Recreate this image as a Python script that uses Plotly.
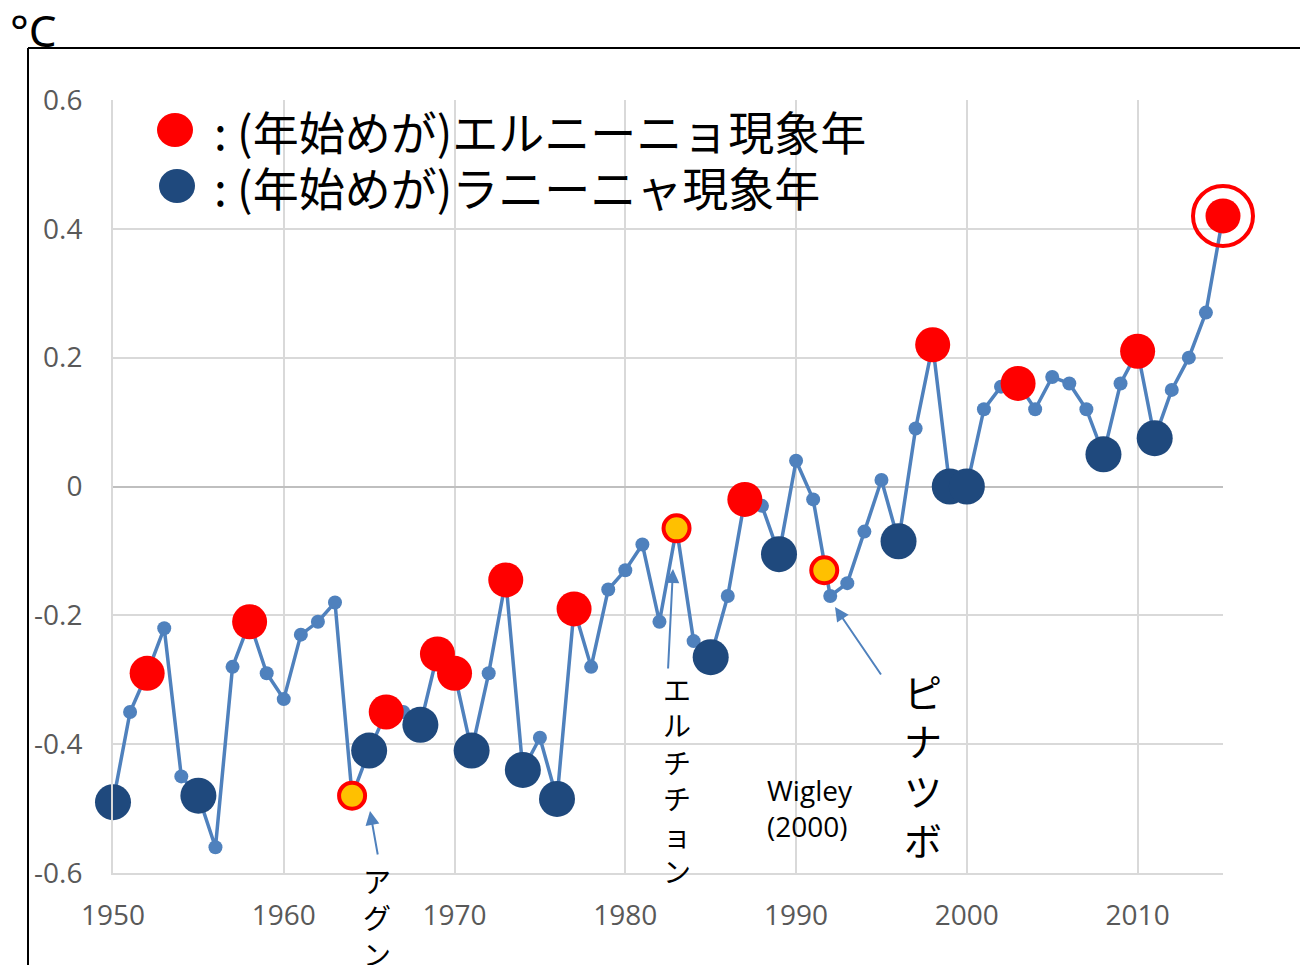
import plotly.graph_objects as go

# ---------------- data ----------------
years = list(range(1950, 2016))
temps = [-0.49, -0.35, -0.29, -0.22, -0.45, -0.48, -0.56, -0.28, -0.21, -0.29,
         -0.33, -0.23, -0.21, -0.18, -0.48, -0.41, -0.35, -0.35, -0.37, -0.26,
         -0.29, -0.41, -0.29, -0.145, -0.44, -0.39, -0.485, -0.19, -0.28, -0.16,
         -0.13, -0.09, -0.21, -0.065, -0.24, -0.265, -0.17, -0.02, -0.03, -0.105,
         0.04, -0.02, -0.17, -0.15, -0.07, 0.01, -0.085, 0.09, 0.22, 0.0,
         0.0, 0.12, 0.155, 0.16, 0.12, 0.17, 0.16, 0.12, 0.05, 0.16,
         0.21, 0.075, 0.15, 0.20, 0.27, 0.42]

el_nino_years = [1952, 1958, 1966, 1969, 1970, 1973, 1977, 1987, 1998, 2003, 2010, 2015]
la_nina_years = [1950, 1955, 1965, 1968, 1971, 1974, 1976, 1985, 1989, 1996, 1999, 2000, 2008, 2011]
volcano_years = [1964, 1983, 1991.65]
volcano_vals = [-0.48, -0.065, -0.13]
highlight_years = [2015]

x_ticks = [1950, 1960, 1970, 1980, 1990, 2000, 2010]
y_ticks = [-0.6, -0.4, -0.2, 0, 0.2, 0.4, 0.6]
y_ticktext = ["-0.6", "-0.4", "-0.2", "0", "0.2", "0.4", "0.6"]

legend_texts = [": (年始めが)エルニーニョ現象年", ": (年始めが)ラニーニャ現象年"]

lookup = dict(zip(years, temps))

# ---------------- layout helpers ----------------
OFF = 0  # body margin removed via post_script
W, H = 1300, 965
L, T = 113 - OFF, 100 - OFF
PW, PH = 1110, 773
R, B = W - L - PW, H - T - PH


def px(x):
    return (x - OFF - L) / PW


def py(y):
    return (H - B - (y - OFF)) / PH


LINE_BLUE = "#4F81BD"
RED = "#FF0000"
NAVY = "#1F497D"
YELLOW = "#FFC000"
JP = "Noto Sans CJK JP"

fig = go.Figure()

fig.add_trace(go.Scatter(
    x=years, y=temps, mode="lines+markers",
    line=dict(color=LINE_BLUE, width=3.5),
    marker=dict(size=14, color=LINE_BLUE),
    cliponaxis=False, hoverinfo="skip"))

fig.add_trace(go.Scatter(
    x=la_nina_years, y=[lookup[y] for y in la_nina_years], mode="markers",
    marker=dict(size=36, color=NAVY), cliponaxis=False))

fig.add_trace(go.Scatter(
    x=el_nino_years, y=[lookup[y] for y in el_nino_years], mode="markers",
    marker=dict(size=35, color=RED), cliponaxis=False))

fig.add_trace(go.Scatter(
    x=volcano_years, y=volcano_vals, mode="markers",
    marker=dict(size=26, color=YELLOW, line=dict(color=RED, width=4)),
    cliponaxis=False))

fig.add_trace(go.Scatter(
    x=highlight_years, y=[lookup[y] for y in highlight_years], mode="markers",
    marker=dict(size=60, symbol="circle-open", color=RED, line=dict(color=RED, width=4)),
    cliponaxis=False))

axis_common = dict(
    showgrid=True, gridcolor="#D9D9D9", gridwidth=2,
    showline=True, linecolor="#D9D9D9", linewidth=2,
    ticks="", tickfont=dict(family="Open Sans", size=28, color="#595959"),
)

fig.update_xaxes(range=[1950, 2015], tickvals=x_ticks, zeroline=False,
                 ticklabelstandoff=16, **axis_common)
fig.update_yaxes(range=[-0.6, 0.6], tickvals=y_ticks, ticktext=y_ticktext,
                 zeroline=True, zerolinecolor="#BFBFBF", zerolinewidth=2,
                 ticklabelstandoff=23, **axis_common)

shapes = [
    dict(type="line", xref="paper", yref="paper", x0=px(28), x1=px(1310), y0=py(48), y1=py(48),
         line=dict(color="black", width=2)),
    dict(type="line", xref="paper", yref="paper", x0=px(28), x1=px(28), y0=py(48), y1=py(975),
         line=dict(color="black", width=2)),
    # legend dots
    dict(type="circle", xref="paper", yref="paper", x0=px(157), x1=px(193), y0=py(113), y1=py(147),
         fillcolor=RED, line=dict(width=0)),
    dict(type="circle", xref="paper", yref="paper", x0=px(159), x1=px(195), y0=py(169), y1=py(203),
         fillcolor=NAVY, line=dict(width=0)),
]

annotations = [
    dict(text="°C", xref="paper", yref="paper", x=px(8), y=py(30), xanchor="left", yanchor="middle",
         showarrow=False, font=dict(family="Noto Sans", size=44, color="black")),
    dict(text=legend_texts[0], xref="paper", yref="paper", x=px(212), y=py(130), xanchor="left",
         yanchor="middle", showarrow=False, font=dict(family=JP, size=46, color="black")),
    dict(text=legend_texts[1], xref="paper", yref="paper", x=px(212), y=py(186), xanchor="left",
         yanchor="middle", showarrow=False, font=dict(family=JP, size=46, color="black")),
    # vertical labels
    dict(text="<br>".join("アグン"), xref="paper", yref="paper", x=px(377), y=py(860),
         xanchor="center", yanchor="top", showarrow=False, borderpad=0,
         font=dict(family=JP, size=28, color="black")),
    dict(text="<br>".join("エルチチョン"), xref="paper", yref="paper", x=px(677), y=py(668),
         xanchor="center", yanchor="top", showarrow=False, borderpad=0,
         font=dict(family=JP, size=28, color="black")),
    dict(text="<br>".join("ピナツボ"), xref="paper", yref="paper", x=px(923), y=py(662),
         xanchor="center", yanchor="top", showarrow=False, borderpad=0,
         font=dict(family=JP, size=38, color="black")),
    dict(text="Wigley<br>(2000)", xref="paper", yref="paper", x=px(765), y=py(808),
         xanchor="left", yanchor="middle", align="left", showarrow=False,
         font=dict(family="Open Sans", size=28, color="black")),
    # arrows
    dict(text="", xref="paper", yref="paper", x=px(370), y=py(811), ax=8, ay=45,
         showarrow=True, arrowhead=2, arrowsize=1.4, arrowwidth=2, arrowcolor=LINE_BLUE),
    dict(text="", xref="paper", yref="paper", x=px(673), y=py(569), ax=-5, ay=101,
         showarrow=True, arrowhead=2, arrowsize=1.4, arrowwidth=2, arrowcolor=LINE_BLUE),
    dict(text="", xref="paper", yref="paper", x=px(835), y=py(607), ax=47, ay=69,
         showarrow=True, arrowhead=2, arrowsize=1.4, arrowwidth=2, arrowcolor=LINE_BLUE),
]

fig.update_layout(
    width=W, height=H,
    margin=dict(l=L, r=R, t=T, b=B, autoexpand=False),
    plot_bgcolor="white", paper_bgcolor="white",
    showlegend=False,
    shapes=shapes, annotations=annotations,
)

fig.write_html(
    "out.html",
    config={"displayModeBar": False},
    post_script="document.body.style.margin='0';document.documentElement.style.overflow='hidden';",
)
